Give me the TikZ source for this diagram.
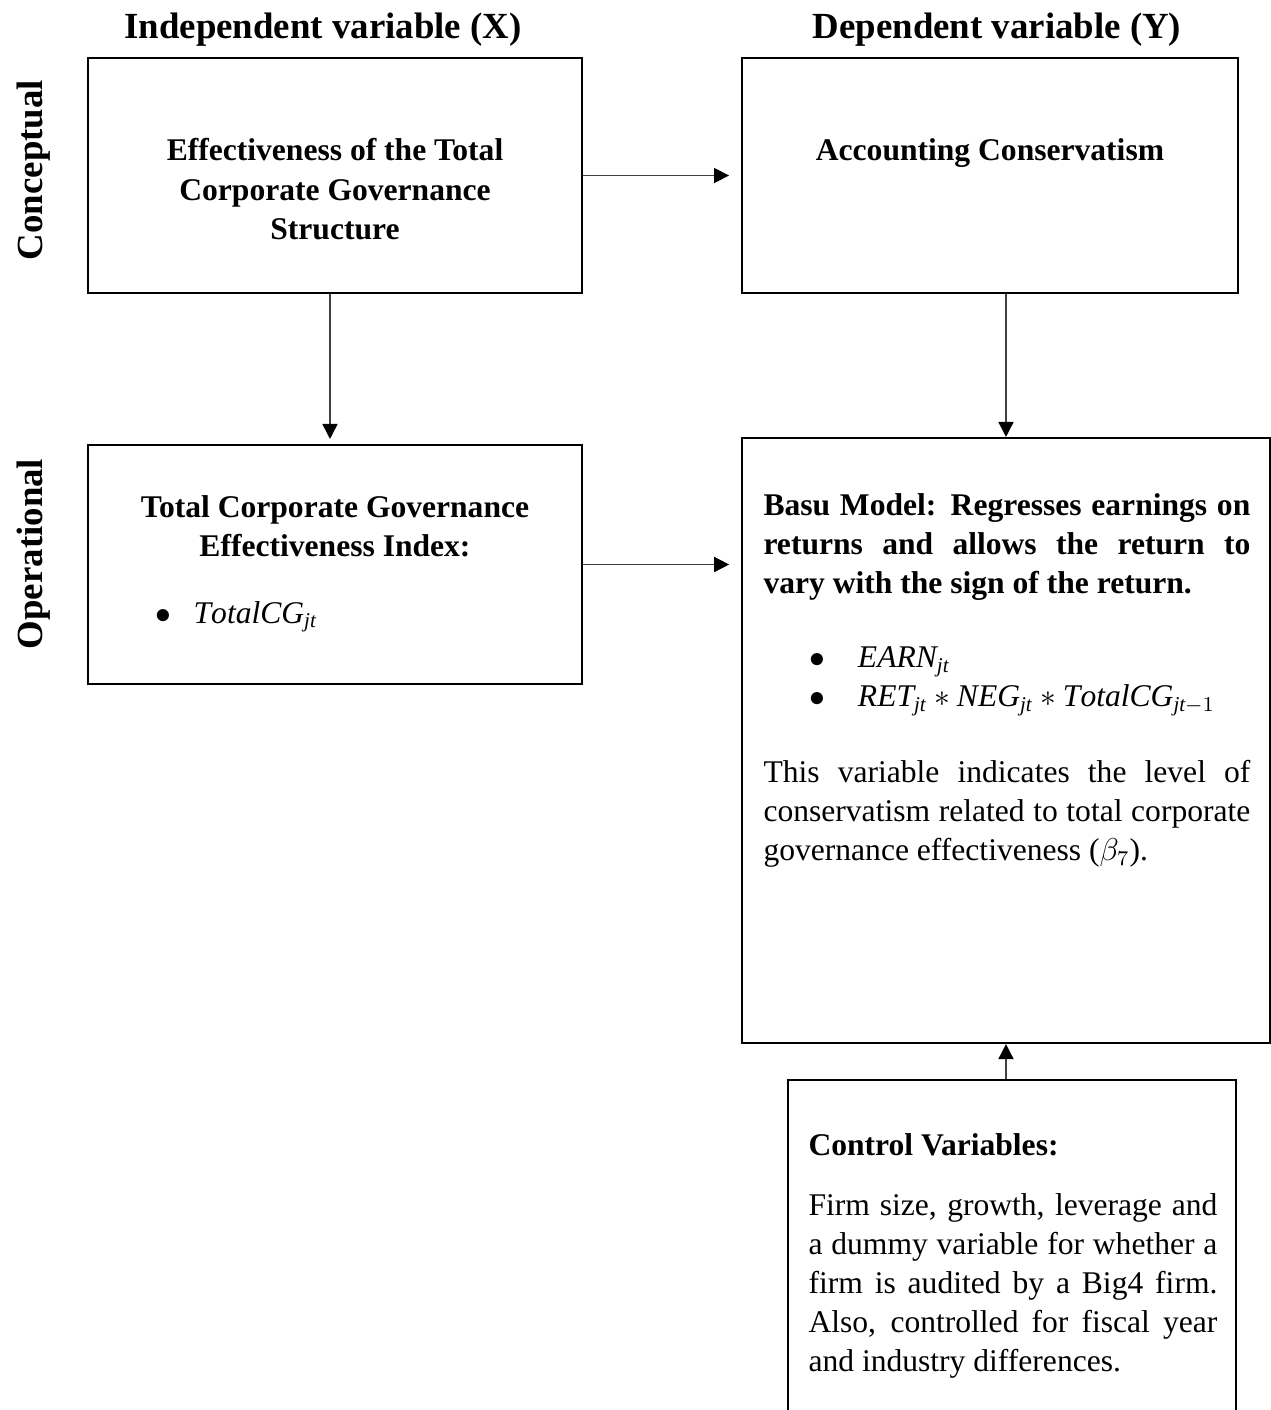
\documentclass[tikz,border=0pt]{standalone}
\usepackage{fontspec}
\setmainfont{Liberation Serif}
\usetikzlibrary{arrows.meta}

\begin{document}
\begin{tikzpicture}[x=0.38pt,y=-0.38pt,
    box/.style={draw,line width=0.8pt,inner sep=0pt},
    txt/.style={inner sep=0pt,font=\fontsize{12}{14.8}\selectfont},
    txtb/.style={inner sep=0pt,font=\fontsize{12}{15}\selectfont\bfseries},
    head/.style={inner sep=0pt,font=\fontsize{14}{16}\selectfont\bfseries},
    link/.style={draw=black!75,line width=0.6pt,-{Triangle[length=5.7pt,width=5.7pt,color=black]}}]
  \useasboundingbox (0,0) rectangle (1271,1410);
  \clip (0,0) rectangle (1271,1410);

  % column and row titles
  \node[head,anchor=base] (indep) at (323,38) {Independent variable (X)};
  \node[head,anchor=base] (dep) at (997,38) {Dependent variable (Y)};
  \node[head,anchor=base,rotate=90] (concept) at (43,170) {Conceptual};
  \node[head,anchor=base,rotate=90] (oper) at (43,554) {Operational};

  % boxes
  \node[box,minimum width=187.7pt,minimum height=89.3pt] (cgx) at (335,175.5) {};
  \node[box,minimum width=188.5pt,minimum height=89.3pt] (conserv) at (990,175.5) {};
  \node[box,minimum width=187.7pt,minimum height=90.8pt] (tcg) at (335,564.5) {};
  \node[box,minimum width=200.6pt,minimum height=229.9pt] (basu) at (1006,740.5) {};
  \node[box,minimum width=170.2pt,minimum height=133pt] (ctrl) at (1012,1255) {};

  % box texts
  \node[txtb,align=center,anchor=north] (cgxt) at (335,138)
    {Effectiveness of the Total\\Corporate Governance\\Structure};
  \node[txtb,anchor=base] (conservt) at (990,160) {Accounting Conservatism};
  \node[txtb,align=center,anchor=north] (tcgt) at (335,495)
    {Total Corporate Governance\\Effectiveness Index:};
  \node[txt,anchor=base west] (tcgb) at (155,623)
    {\makebox[14.5pt][l]{$\bullet$}$\mathit{TotalCG}_{\mathit{jt}}$};
  \node[txt,text width=185pt,align=justify,anchor=north west] (basut) at (763,493)
    {\parindent=0pt
     \textbf{Basu Model: Regresses earnings on\linebreak returns and allows the return to\linebreak vary with the sign of the return.}\par
     \vspace{13.5pt}
     \hspace*{17.5pt}\makebox[18.4pt][l]{$\bullet$}$\mathit{EARN}_{\mathit{jt}}$\par
     \hspace*{17.5pt}\makebox[18.4pt][l]{$\bullet$}\mbox{$\mathit{RET}_{\mathit{jt}}\ast\mathit{NEG}_{\mathit{jt}}\ast\mathit{TotalCG}_{\mathit{jt}-1}$}\par
     \vspace{14pt}
     This variable indicates the level of\linebreak conservatism related to total corporate\linebreak governance effectiveness ($\beta_7$).};
  \node[txt,text width=155.4pt,align=justify,anchor=north west] (ctrlt) at (808,1133)
    {\parindent=0pt
     \textbf{Control Variables:}\par
     \vspace{8pt}
     Firm size, growth, leverage and\linebreak a dummy variable for whether a\linebreak firm is audited by a Big4 firm.\linebreak Also, controlled for fiscal year\linebreak and industry differences.};

  % arrows
  \draw[link,shorten >=4.5pt] (cgx.east) -- (cgx.east -| conserv.west);
  \draw[link,shorten >=1.9pt] ([xshift=-1.9pt]cgx.south) -- ([xshift=-1.9pt]cgx.south |- tcg.north);
  \draw[link] (basu.north |- conserv.south) -- (basu.north);
  \draw[link,shorten >=4.5pt] (tcg.east) -- (tcg.east -| basu.west);
  \draw[link] (ctrl.north -| basu.south) -- (basu.south);
\end{tikzpicture}
\end{document}
